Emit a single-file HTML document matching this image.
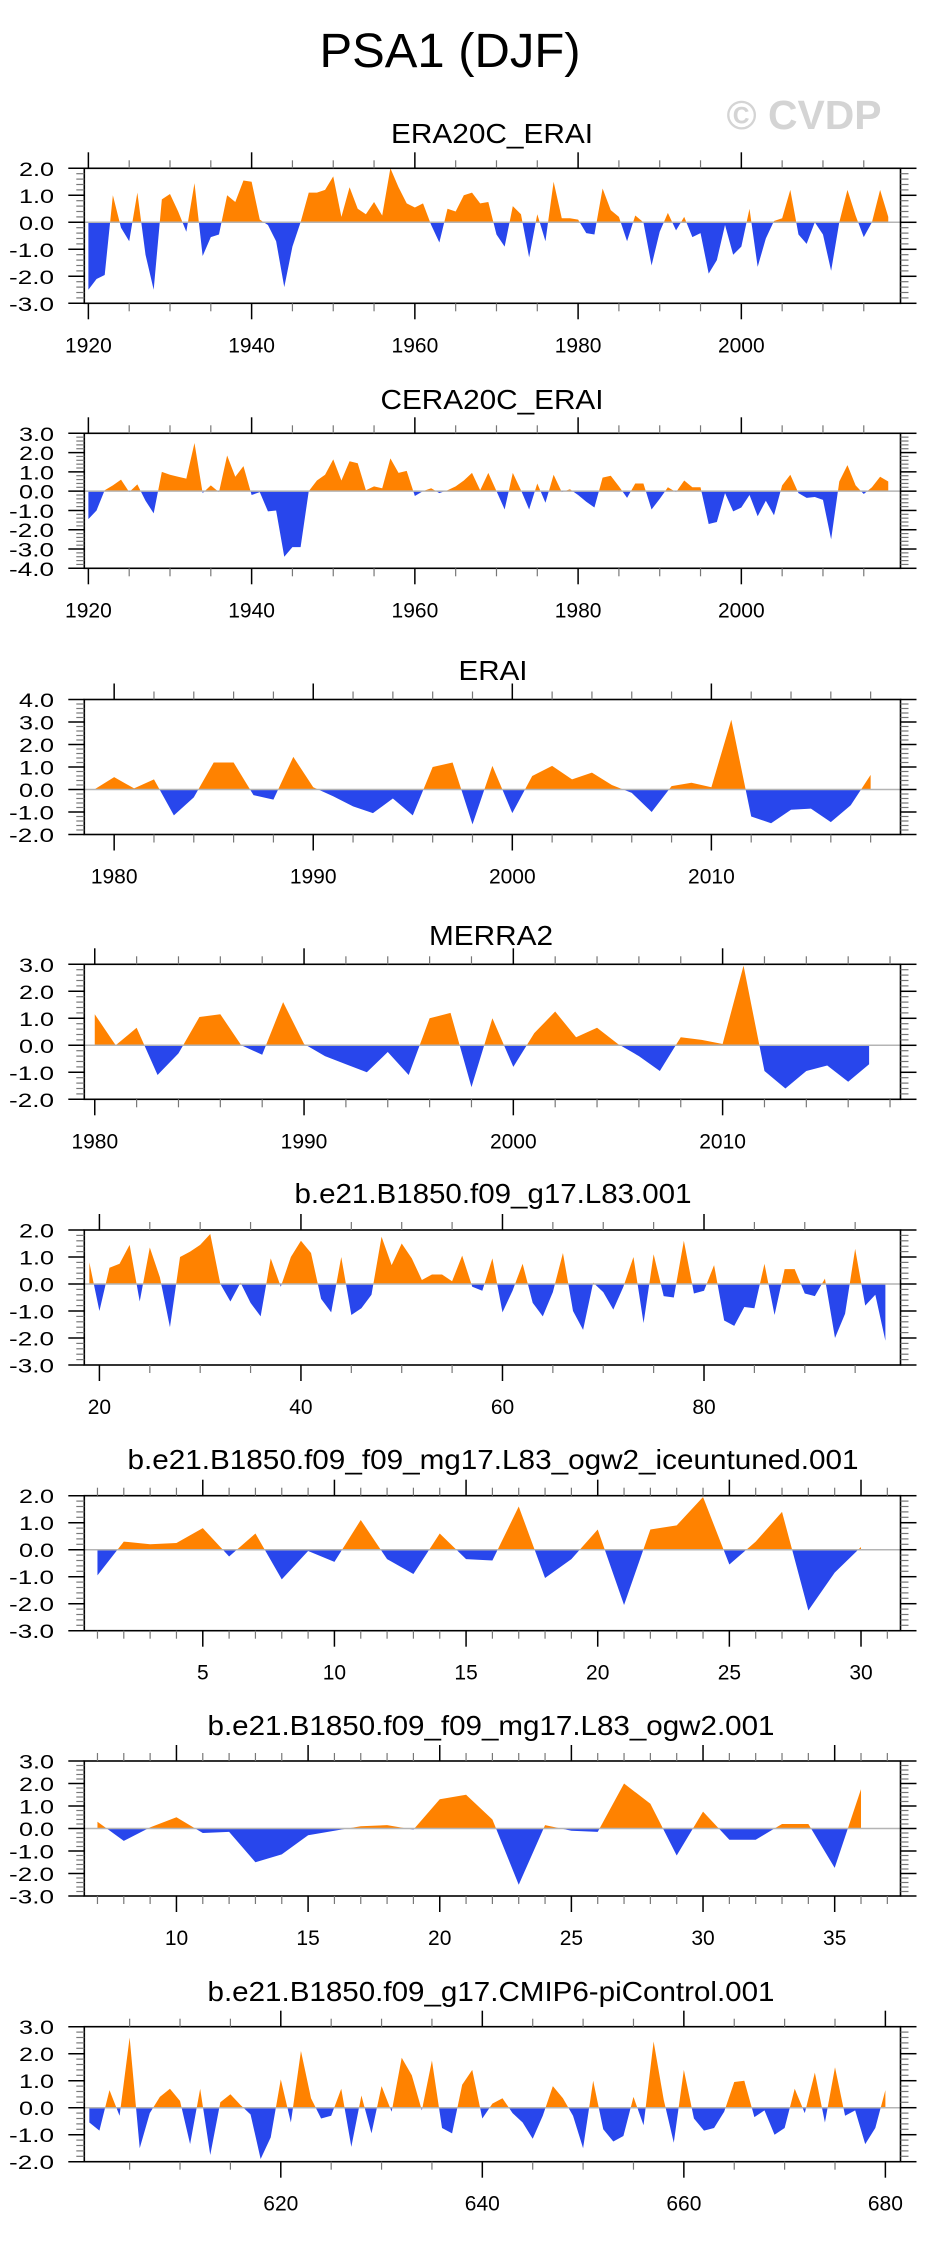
<!DOCTYPE html>
<html><head><meta charset="utf-8"><title>PSA1 (DJF)</title>
<style>
html,body{margin:0;padding:0;background:#fff;}
svg{display:block;font-family:"Liberation Sans",Arial,sans-serif;}
</style></head>
<body>
<svg id="chart" width="930" height="2241" viewBox="0 0 930 2241">
<text x="450" y="67" font-size="48" text-anchor="middle" textLength="261" lengthAdjust="spacingAndGlyphs">PSA1 (DJF)</text>
<text x="804" y="129" font-size="41" font-weight="bold" fill="#d4d4d4" text-anchor="middle" textLength="155" lengthAdjust="spacingAndGlyphs">© CVDP</text>
<text x="492" y="143" font-size="28" text-anchor="middle" textLength="202" lengthAdjust="spacingAndGlyphs">ERA20C_ERAI</text>
<text x="492" y="409" font-size="28" text-anchor="middle" textLength="223" lengthAdjust="spacingAndGlyphs">CERA20C_ERAI</text>
<text x="493" y="680" font-size="28" text-anchor="middle" textLength="69" lengthAdjust="spacingAndGlyphs">ERAI</text>
<text x="491" y="945" font-size="28" text-anchor="middle" textLength="124" lengthAdjust="spacingAndGlyphs">MERRA2</text>
<text x="493" y="1203" font-size="28" text-anchor="middle" textLength="397" lengthAdjust="spacingAndGlyphs">b.e21.B1850.f09_g17.L83.001</text>
<text x="493" y="1469" font-size="28" text-anchor="middle" textLength="731" lengthAdjust="spacingAndGlyphs">b.e21.B1850.f09_f09_mg17.L83_ogw2_iceuntuned.001</text>
<text x="491" y="1735" font-size="28" text-anchor="middle" textLength="567" lengthAdjust="spacingAndGlyphs">b.e21.B1850.f09_f09_mg17.L83_ogw2.001</text>
<text x="491" y="2001" font-size="28" text-anchor="middle" textLength="567" lengthAdjust="spacingAndGlyphs">b.e21.B1850.f09_g17.CMIP6-piControl.001</text>
</svg>
<script>
// ---- data (one value per DJF season) ----
const era20cStart = 1920;
const era20cValues = [-2.5,-2.1,-1.95,1.0,-0.2,-0.7,1.1,-1.2,-2.5,0.85,
1.05,0.4,-0.35,1.45,-1.25,-0.55,-0.45,1.0,0.75,1.55,
1.5,0.1,-0.1,-0.7,-2.4,-0.9,0.0,1.1,1.1,1.2,
1.7,0.2,1.3,0.5,0.3,0.75,0.25,2.0,1.3,0.7,
0.55,0.7,-0.1,-0.75,0.5,0.4,1.0,1.1,0.7,0.75,
-0.45,-0.9,0.6,0.3,-1.3,0.3,-0.7,1.5,0.15,0.15,
0.1,-0.4,-0.45,1.25,0.45,0.2,-0.7,0.25,0.0,-1.6,
-0.35,0.35,-0.3,0.2,-0.55,-0.4,-1.9,-1.4,-0.1,-1.2,
-0.9,0.5,-1.65,-0.6,0.05,0.15,1.2,-0.45,-0.8,0.0,
-0.45,-1.8,0.0,1.2,0.25,-0.55,0.0,1.2,0.2];
const cera20cStart = 1920;
const cera20cValues = [-1.45,-1.0,0.05,0.3,0.6,-0.05,0.35,-0.5,-1.15,1.0,
0.85,0.75,0.65,2.5,-0.1,0.3,-0.05,1.85,0.75,1.3,
-0.2,-0.05,-1.05,-1.0,-3.4,-2.9,-2.9,0.0,0.55,0.85,
1.65,0.55,1.55,1.45,0.05,0.25,0.15,1.7,0.95,1.05,
-0.25,0.0,0.15,-0.1,0.05,0.25,0.55,0.95,0.05,0.95,
0.0,-0.95,0.95,0.05,-0.95,0.4,-0.6,0.85,-0.05,0.1,
-0.2,-0.55,-0.85,0.7,0.8,0.25,-0.35,0.4,0.4,-0.95,
-0.4,0.2,-0.05,0.55,0.2,0.2,-1.7,-1.6,-0.1,-1.05,
-0.85,-0.2,-1.3,-0.5,-1.25,0.3,0.85,-0.1,-0.35,-0.3,
-0.45,-2.5,0.5,1.35,0.3,-0.15,0.2,0.75,0.5];
const eraiStart = 1979;
const eraiValues = [0.0,0.55,0.05,0.45,-1.15,-0.35,1.2,1.2,-0.25,-0.45,
1.45,0.1,-0.3,-0.75,-1.05,-0.4,-1.15,1.0,1.2,-1.55,
1.05,-1.05,0.6,1.05,0.45,0.75,0.2,-0.15,-1.0,0.15,
0.3,0.1,3.1,-1.2,-1.5,-0.9,-0.85,-1.45,-0.7,0.65];
const merra2Start = 1980;
const merra2Values = [1.15,0.0,0.65,-1.1,-0.3,1.05,1.15,0.0,-0.35,1.6,
0.05,-0.4,-0.7,-1.0,-0.25,-1.1,1.0,1.2,-1.55,1.0,
-0.8,0.45,1.25,0.3,0.65,0.05,-0.4,-0.95,0.3,0.2,
0.05,2.95,-0.95,-1.6,-0.95,-0.75,-1.35,-0.7];
const l83Start = 19;
const l83Values = [0.8,-1.0,0.6,0.75,1.45,-0.65,1.35,0.25,-1.6,1.0,
1.2,1.45,1.85,0.0,-0.65,0.05,-0.7,-1.2,0.95,-0.1,
1.0,1.6,1.15,-0.55,-1.05,1.0,-1.15,-0.9,-0.4,1.75,
0.7,1.5,0.95,0.15,0.35,0.35,0.1,1.05,-0.1,-0.25,
0.95,-1.05,-0.25,0.75,-0.7,-1.2,-0.3,1.15,-1.0,-1.7,
0.05,-0.3,-0.95,-0.1,1.0,-1.45,1.1,-0.45,-0.5,1.6,
-0.35,-0.25,0.7,-1.35,-1.55,-0.85,-0.9,0.75,-1.15,0.55,
0.55,-0.35,-0.45,0.2,-2.0,-1.1,1.3,-0.8,-0.4,-2.1];
const iceStart = 1;
const iceValues = [-0.95,0.3,0.2,0.25,0.8,-0.25,0.6,-1.1,-0.05,-0.45,
1.1,-0.35,-0.9,0.6,-0.35,-0.4,1.6,-1.05,-0.35,0.75,
-2.05,0.75,0.9,1.95,-0.55,0.3,1.4,-2.25,-0.85,0.1];
const ogw2Start = 7;
const ogw2Values = [0.3,-0.55,0.05,0.5,-0.2,-0.15,-1.5,-1.15,-0.3,-0.1,
0.1,0.15,-0.05,1.3,1.5,0.4,-2.5,0.15,-0.1,-0.15,
2.0,1.1,-1.2,0.75,-0.5,-0.5,0.2,0.2,-1.75,1.75];
const piStart = 601;
const piValues = [-0.55,-0.85,0.65,-0.3,2.6,-1.5,-0.2,0.4,0.7,0.25,
-1.35,0.7,-1.75,0.2,0.5,0.1,-0.25,-1.9,-1.1,1.05,
-0.55,2.1,0.35,-0.4,-0.3,0.7,-1.45,0.45,-0.95,0.8,
-0.15,1.85,1.2,-0.1,1.75,-0.75,-0.95,0.85,1.4,-0.4,
0.15,0.35,-0.2,-0.55,-1.15,-0.3,0.8,0.35,-0.3,-1.5,
1.0,-0.8,-1.25,-1.05,0.4,-0.65,2.45,0.3,-1.3,1.4,
-0.4,-0.85,-0.75,-0.15,0.95,1.0,-0.35,-0.1,-1.0,-0.75,
0.7,-0.2,1.3,-0.55,1.5,-0.3,-0.1,-1.35,-0.75,0.65];

// ---- tick labels ----
const centuryLabels = [1920,1940,1960,1980,2000];
const decadeLabels = [1980,1990,2000,2010];
const l83Labels = [20,40,60,80];
const shortLabels1 = [5,10,15,20,25,30];
const shortLabels2 = [10,15,20,25,30,35];
const piLabels = [620,640,660,680];

const panels = [
 {name:'era20c-erai', top:168.3, ymax:2, ymin:-3, xmin:1919.5, xmax:2019.5, start:era20cStart, vals:era20cValues, minor:5, labels:centuryLabels},
 {name:'cera20c-erai', top:433.3, ymax:3, ymin:-4, xmin:1919.5, xmax:2019.5, start:cera20cStart, vals:cera20cValues, minor:5, labels:centuryLabels},
 {name:'erai', top:699.5, ymax:4, ymin:-2, xmin:1978.5, xmax:2019.5, start:eraiStart, vals:eraiValues, minor:2, labels:decadeLabels},
 {name:'merra2', top:964.3, ymax:3, ymin:-2, xmin:1979.5, xmax:2018.5, start:merra2Start, vals:merra2Values, minor:2, labels:decadeLabels},
 {name:'g17-l83', top:1230, ymax:2, ymin:-3, xmin:18.5, xmax:99.5, start:l83Start, vals:l83Values, minor:5, labels:l83Labels},
 {name:'ogw2-iceuntuned', top:1495.7, ymax:2, ymin:-3, xmin:0.5, xmax:31.5, start:iceStart, vals:iceValues, minor:1, labels:shortLabels1},
 {name:'ogw2', top:1761, ymax:3, ymin:-3, xmin:6.5, xmax:37.5, start:ogw2Start, vals:ogw2Values, minor:1, labels:shortLabels2},
 {name:'picontrol', top:2026.7, ymax:3, ymin:-2, xmin:600.5, xmax:681.5, start:piStart, vals:piValues, minor:5, labels:piLabels}
];

const NS='http://www.w3.org/2000/svg';
const svg=document.getElementById('chart');
const L=84.3, R=900.5, H=135;
function mk(tag, attrs, parent){const e=document.createElementNS(NS,tag);for(const k in attrs)e.setAttribute(k,attrs[k]);(parent||svg).appendChild(e);return e;}
function ln(g,x1,y1,x2,y2,c,w){return mk('line',{x1:x1,y1:y1,x2:x2,y2:y2,stroke:c,'stroke-width':w},g);}

panels.forEach((p,pi)=>{
  const top=p.top, bot=top+H;
  const xs=v=>L+(v-p.xmin)/(p.xmax-p.xmin)*(R-L);
  const ys=v=>top+(p.ymax-v)/(p.ymax-p.ymin)*H;
  const g=mk('g',{});
  
  
  const y0=ys(0);
  const defs=mk('defs',{},g);
  const ca=mk('clipPath',{id:'above'+pi},defs);
  mk('rect',{x:L,y:top,width:R-L,height:y0-top},ca);
  const cb=mk('clipPath',{id:'below'+pi},defs);
  mk('rect',{x:L,y:y0,width:R-L,height:bot-y0},cb);
  let d='M'+xs(p.start).toFixed(2)+','+y0.toFixed(2);
  p.vals.forEach((v,i)=>{d+=' L'+xs(p.start+i).toFixed(2)+','+ys(v).toFixed(2);});
  d+=' L'+xs(p.start+p.vals.length-1).toFixed(2)+','+y0.toFixed(2)+' Z';
  const pa=mk('path',{d:d,fill:'#ff8200','clip-path':'url(#above'+pi+')'},g);
  
  
  const pb=mk('path',{d:d,fill:'#2846ec','clip-path':'url(#below'+pi+')'},g);
  
  
  const zl=ln(g,L,y0,R,y0,'#b4b4b4',1.5);
  
  
  const box=mk('rect',{x:L,y:top,width:R-L,height:H,fill:'none',stroke:'#000','stroke-width':1.6},g);
  
  
  for(let k=Math.round(p.ymin*5);k<=Math.round(p.ymax*5);k++){
    const v=k/5, y=ys(v), major=(k%5===0);
    const len=major?16:8, c=major?'#000':'#777', w=major?1.5:1.2;
    ln(g,L-len,y,L,y,c,w); ln(g,R,y,R+len,y,c,w);
    if(major){
      const t=mk('text',{x:54,y:(y+7.5).toFixed(1),'font-size':19,'text-anchor':'end',textLength:(v<0?45:35),lengthAdjust:'spacingAndGlyphs'},g);
      t.textContent=v.toFixed(1);
      
      
    }
  }
  const majorStep=p.labels[1]-p.labels[0];
  const first=Math.ceil(p.xmin/p.minor)*p.minor;
  for(let v=first; v<=p.xmax; v+=p.minor){
    const x=xs(v), major=((v-p.labels[0])%majorStep===0);
    const len=major?16:8, c=major?'#000':'#777', w=major?1.5:1.2;
    ln(g,x,top-len,x,top,c,w); ln(g,x,bot,x,bot+len,c,w);
  }
  p.labels.forEach(lb=>{
    const t=mk('text',{x:xs(lb).toFixed(1),y:(bot+49).toFixed(1),'font-size':21,'text-anchor':'middle'},g);
    t.textContent=String(lb);
    
    
  });
});
</script>
</body></html>
